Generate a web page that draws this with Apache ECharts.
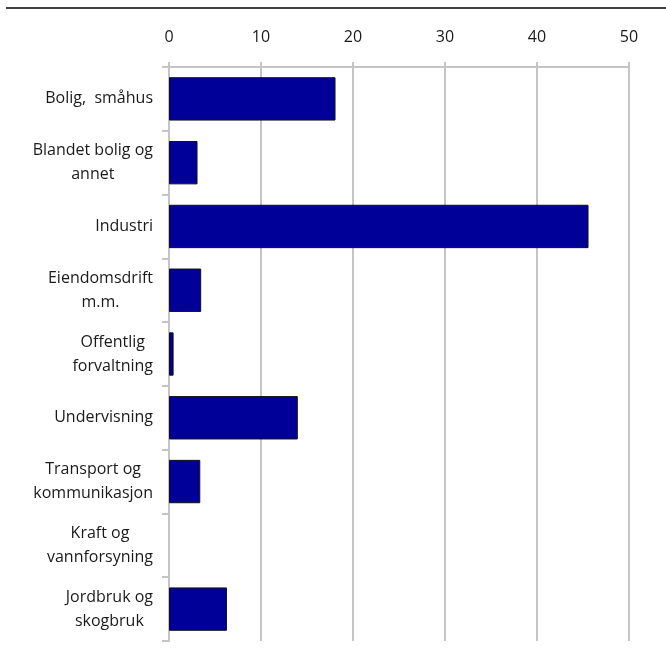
<!DOCTYPE html>
<html>
<head>
<meta charset="utf-8">
<script src="https://cdn.jsdelivr.net/npm/echarts@6/dist/echarts.min.js"></script>
<style>
  html, body { margin: 0; padding: 0; background: #fff; }
  #chart { width: 666px; height: 651px; }
</style>
</head>
<body>
<div id="chart"></div>
<script>
// kategorier, ovenfra og ned
const categories = [
  'Bolig,  småhus',
  'Blandet bolig og\nannet',
  'Industri',
  'Eiendomsdrift\nm.m.',
  'Offentlig\nforvaltning',
  'Undervisning',
  'Transport og\nkommunikasjon',
  'Kraft og\nvannforsyning',
  'Jordbruk og\nskogbruk'
]
const values = [18.1, 3.1, 45.6, 3.5, 0.5, 14.0, 3.4, 0, 6.3]
const xTicks = [0, 10, 20, 30, 40, 50]

var myChart = echarts.init(document.getElementById('chart'))
const gray = '#c4c4c4'
const txt = '#1a1a1a'
const option = {
  animation: false,
  textStyle: { fontFamily: 'Open Sans' },
  graphic: [{
    type: 'line',
    shape: { x1: 6, y1: 8, x2: 666, y2: 8 },
    style: { stroke: '#000', lineWidth: 1.5 }
  }],
  grid: { left: 169, right: 37, top: 67, bottom: 10, containLabel: false },
  xAxis: {
    type: 'value',
    position: 'top',
    min: xTicks[0],
    max: xTicks[xTicks.length - 1],
    interval: 10,
    axisLine: { show: true, lineStyle: { color: gray, width: 2 } },
    axisTick: { show: true, length: 5, lineStyle: { color: gray, width: 2 } },
    splitLine: { show: true, lineStyle: { color: gray, width: 2 } },
    axisLabel: { margin: 22, fontSize: 16, color: txt }
  },
  yAxis: {
    type: 'category',
    inverse: true,
    data: categories,
    axisLine: { show: true, lineStyle: { color: gray, width: 2 } },
    axisTick: { show: true, length: 7, lineStyle: { color: gray, width: 2 } },
    axisLabel: {
      margin: 16,
      fontSize: 16,
      color: txt,
      lineHeight: 24,
      formatter: function(v) {
        return v.split('\n').map(s => '{c|' + s + '}').join('\n')
      },
      rich: {
        c: { align: 'center', fontSize: 16, lineHeight: 24, color: txt, fontFamily: 'Open Sans' }
      }
    }
  },
  series: [{
    type: 'bar',
    // en null-verdi skal ikke tegne noen kantlinje
    data: values.map(v => v === 0 ? { value: v, itemStyle: { borderWidth: 0 } } : v),
    barCategoryGap: '32%',
    itemStyle: {
      color: '#000099',
      borderColor: '#111',
      borderWidth: 1
    }
  }]
}
myChart.setOption(option)
</script>
</body>
</html>
